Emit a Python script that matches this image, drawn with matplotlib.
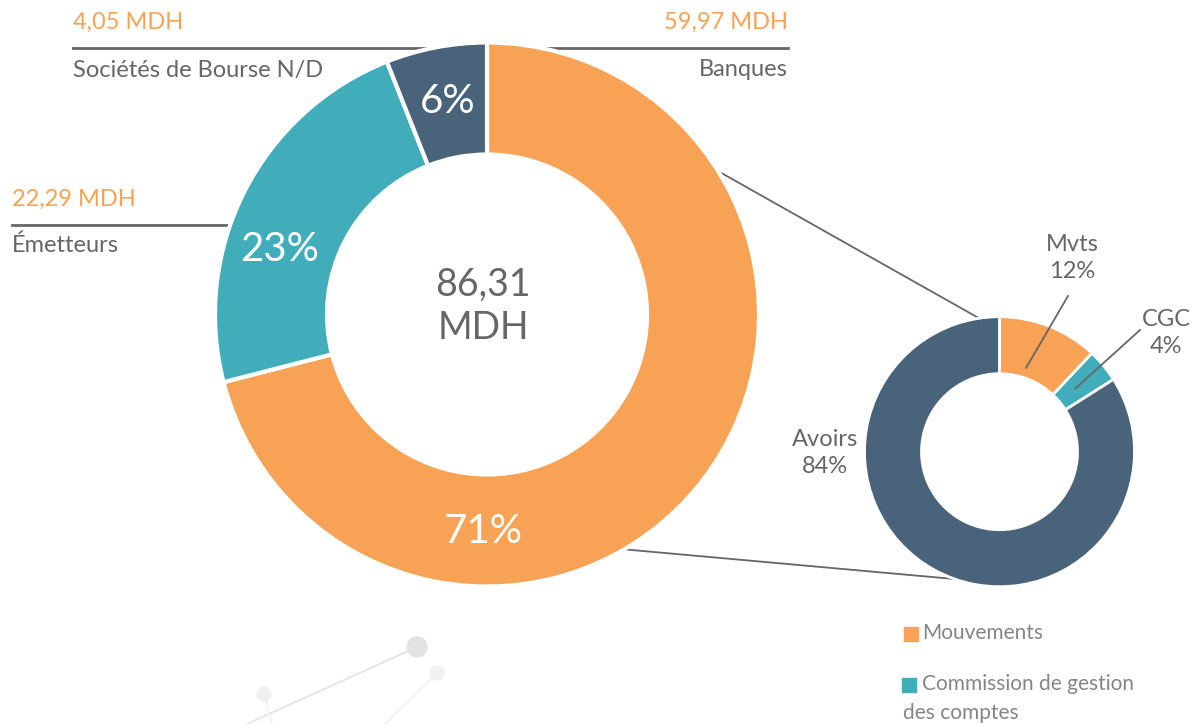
import numpy as np
import matplotlib.pyplot as plt

plt.rcParams['font.family'] = ['Lato', 'DejaVu Sans']

# main donut: répartition des commissions
segments = ['Banques', 'Émetteurs', 'Sociétés de Bourse N/D']
shares = [71, 23, 6]
amounts = ['59,97 MDH', '22,29 MDH', '4,05 MDH']
total_label = '86,31\nMDH'

# detail donut for Banques
detail_labels = ['Mvts', 'CGC', 'Avoirs']
detail_shares = [12, 4, 84]
legend_labels = ['Mouvements', 'Commission de gestion', 'des comptes']

ORANGE = '#F7A254'
TEAL = '#41ADBA'
NAVY = '#49637A'
GREY = '#666666'
LIGHT = '#858585'

H = 724
fig = plt.figure(figsize=(12, 7.24), dpi=100)
ax = fig.add_axes([0, 0, 1, 1])

def P(x, y):
    # image pixel -> axes coords (y up)
    return x, H - y

c1 = P(487, 314.5)
r1 = 272
c2 = P(999.5, 451.7)
r2 = 135

def on_circle(c, r, ang):
    a = np.deg2rad(ang)
    return c[0] + r * np.cos(a), c[1] + r * np.sin(a)

# faint decoration at the bottom
for (x0, y0), (x1, y1), col in [((417, 647), (247, 724), '#e4e4e4'),
                                ((264, 694), (272, 724), '#f0f0f0'),
                                ((437, 673), (385, 724), '#f2f2f2')]:
    ax.plot([x0, x1], [H - y0, H - y1], color=col, lw=1.3, zorder=0)
for (x, y), rr, col in [((417, 647), 10, '#e2e3e5'), ((264, 694), 7, '#eff0f1'),
                         ((437, 673), 7, '#f0f1f2')]:
    ax.add_patch(plt.Circle(P(x, y), rr, color=col, zorder=0))

# connector lines between the donuts
for a_main, a_det in [(31.8, 98.7), (-59.7, -109.4)]:
    p0 = on_circle(c1, r1, a_main)
    p1 = on_circle(c2, r2, a_det)
    ax.plot([p0[0], p1[0]], [p0[1], p1[1]], color=GREY, lw=1.3, zorder=1)

# header lines for the main labels
ax.plot([73, 470], [H - 48, H - 48], color=GREY, lw=2, zorder=1)
ax.plot([520, 788], [H - 48, H - 48], color=GREY, lw=2, zorder=1)
ax.plot([12, 260], [H - 225, H - 225], color=GREY, lw=2, zorder=1)

ax.pie(shares, colors=[ORANGE, TEAL, NAVY], startangle=90, counterclock=False,
       center=c1, radius=r1, frame=True,
       wedgeprops=dict(width=112, edgecolor='white', linewidth=3, zorder=2))

ax.pie(detail_shares, colors=[ORANGE, TEAL, NAVY], startangle=90, counterclock=False,
       center=c2, radius=r2, frame=True,
       wedgeprops=dict(width=57, edgecolor='white', linewidth=2, zorder=2))

# percentages inside the main donut
for s, ang in zip(shares, [-91, 162.5, 100.5]):
    x, y = on_circle(c1, 217, ang)
    ax.text(x, y, f'{s}%', color='white', fontsize=29, ha='center', va='center', zorder=3)

ax.text(c1[0] - 4, c1[1] + 8, total_label, color=GREY, fontsize=27, ha='center',
        va='center', linespacing=1.25, zorder=3)

# main labels
ax.text(73, H - 22, amounts[2], color=ORANGE, fontsize=17, ha='left', va='center')
ax.text(73, H - 70, segments[2], color=GREY, fontsize=17, ha='left', va='center')
ax.text(788, H - 22, amounts[0], color=ORANGE, fontsize=17, ha='right', va='center')
ax.text(788, H - 70, segments[0], color=GREY, fontsize=17, ha='right', va='center')
ax.text(12, H - 199, amounts[1], color=ORANGE, fontsize=17, ha='left', va='center')
ax.text(12, H - 245, segments[1], color=GREY, fontsize=17, ha='left', va='center')

# detail donut labels
label_pos = [P(1072, 258), P(1166, 333), P(825, 453)]
for lab, s, (x, y) in zip(detail_labels, detail_shares, label_pos):
    ax.text(x, y, f'{lab}\n{s}%', color=GREY, fontsize=17, ha='center', va='center',
            linespacing=1.3, zorder=3)

# leader lines for the small slices
for (tx, ty), ang, rr in [(P(1068, 296), 72.4, 88), (P(1140, 330), 39.8, 99)]:
    x, y = on_circle(c2, rr, ang)
    ax.plot([tx, x], [ty, y], color=GREY, lw=1.3, zorder=3)

# legend
ax.scatter([911, 909], [H - 634, H - 685], marker='s', s=110, c=[ORANGE, TEAL], zorder=3)
ax.text(922, H - 633, legend_labels[0], color=LIGHT, fontsize=15, va='center')
ax.text(922, H - 684, legend_labels[1], color=LIGHT, fontsize=15, va='center')
ax.text(903, H - 713, legend_labels[2], color=LIGHT, fontsize=15, va='center')

ax.set_xlim(0, 1200)
ax.set_ylim(0, H)
ax.set_aspect('equal')
ax.axis('off')

plt.savefig('out.png', dpi=100, facecolor='white')
plt.close(fig)
